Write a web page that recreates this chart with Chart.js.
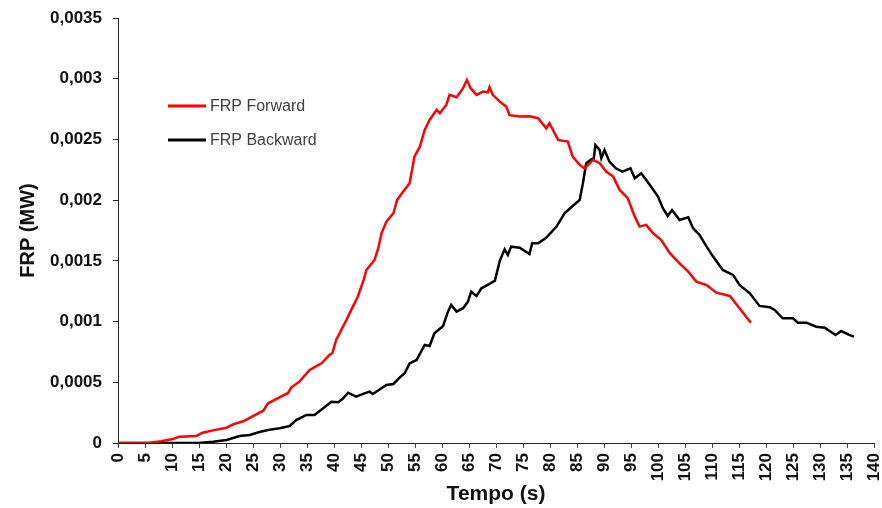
<!DOCTYPE html>
<html>
<head>
<meta charset="utf-8">
<script src="https://cdn.jsdelivr.net/npm/chart.js@4/dist/chart.umd.min.js"></script>
<style>
  html, body { margin: 0; padding: 0; background: #fff; }
  #wrap { width: 882px; height: 508px; }
</style>
</head>
<body>
<div id="wrap"><canvas id="canvas"></canvas></div>
<script>
// FRP values in MW, time in seconds
var forwardTime = [0, 3, 6, 8, 10.2, 11.4, 14.5, 15.7, 17.6, 20.1, 21.3, 23.2, 25, 26.9, 27.8, 29.9,
    31.5, 32.1, 33.6, 35.5, 37.7, 39.2, 39.7, 40.4, 42.3, 43.2, 44.4, 45.5, 46, 47.5, 48.2, 48.8,
    49.7, 51, 51.7, 52.8, 54, 54.9, 55.9, 56.8, 57.7, 59, 59.6, 60.8, 61.4, 62.7, 63.9, 64.6, 65.3,
    66.4, 67.6, 68.5, 68.8, 69.4, 70.7, 71.9, 72.5, 74.4, 76.2, 77.8, 79.3, 79.9, 81.5, 83.3, 84.2,
    85.5, 86.4, 88, 89.2, 90.4, 91.7, 92.9, 94.4, 95.7, 96.6, 97.8, 99.1, 100.6, 102.2, 104, 105.6,
    107.1, 109, 110.8, 113.3, 115.1, 117.2];
var forwardFrp = [0, 0, 0.000003, 0.000015, 0.000033, 0.000052, 0.000058, 0.000085, 0.000104, 0.000126,
    0.000154, 0.000179, 0.000222, 0.000266, 0.000327, 0.000376, 0.000412, 0.000459, 0.000505, 0.000601,
    0.000656, 0.000727, 0.000739, 0.000848, 0.001013, 0.001096, 0.001205, 0.001343, 0.001425, 0.001507,
    0.001604, 0.001727, 0.001823, 0.001892, 0.002002, 0.00207, 0.00214, 0.002358, 0.00244, 0.002578,
    0.00266, 0.002743, 0.002716, 0.002784, 0.002867, 0.002848, 0.002922, 0.00299, 0.002922, 0.002867,
    0.002894, 0.002887, 0.00293, 0.002867, 0.002811, 0.00277, 0.0027, 0.002688, 0.00269, 0.002675,
    0.002592, 0.002633, 0.002496, 0.002482, 0.002358, 0.00229, 0.002262, 0.002331, 0.002304, 0.002235,
    0.002194, 0.002084, 0.002016, 0.001864, 0.001782, 0.001796, 0.001727, 0.001672, 0.001563, 0.00148,
    0.001411, 0.001329, 0.001301, 0.001238, 0.001211, 0.00111, 0.000991];

var backwardTime = [0, 10, 15, 17.6, 20.1, 22.5, 24.4, 26.2, 27.8, 29.9, 31.8, 33, 34.9, 36.4, 38,
    39.5, 40.8, 41.7, 42.6, 44.1, 45.4, 46.6, 47.2, 48.5, 49.7, 51, 52.2, 53.1, 54, 55.3, 56.8, 57.7,
    58.6, 60.2, 61.1, 61.7, 62.7, 63.9, 64.8, 65.4, 66.4, 67.3, 68.8, 69.8, 70.7, 71.6, 72.2, 72.8,
    74.4, 76.2, 76.7, 77.8, 79.3, 81.2, 82.7, 84.2, 85.5, 86.1, 86.7, 87.7, 88.1, 88.4, 89.2, 89.5,
    90.1, 91, 92.2, 93.4, 94.9, 95.7, 96.9, 98.5, 100, 100.9, 101.8, 102.6, 104, 105.6, 106.5, 107.7,
    109, 110.2, 112, 113.9, 115.1, 117, 118.8, 120.7, 121.6, 123.1, 125, 125.9, 127.5, 129.3, 130.9,
    131.5, 132.9, 133.9, 135.4, 136.3];
var backwardFrp = [0, 0, 0, 0.000011, 0.000025, 0.000058, 0.000066, 0.000091, 0.000107, 0.000121,
    0.00014, 0.000189, 0.000231, 0.000231, 0.000286, 0.00034, 0.000335, 0.000368, 0.000414, 0.000381,
    0.000404, 0.000423, 0.000404, 0.000442, 0.000478, 0.000486, 0.000541, 0.000574, 0.000656, 0.000684,
    0.000807, 0.000799, 0.000904, 0.000964, 0.001082, 0.001137, 0.001082, 0.00111, 0.001164, 0.001246,
    0.001211, 0.001274, 0.00131, 0.001337, 0.0015, 0.001595, 0.001549, 0.001617, 0.001608, 0.001557,
    0.001645, 0.001645, 0.00169, 0.001782, 0.001892, 0.001952, 0.002002, 0.00214, 0.002304, 0.002337,
    0.00234, 0.002455, 0.002413, 0.002345, 0.002413, 0.002317, 0.002262, 0.002235, 0.002262, 0.00218,
    0.002221, 0.002125, 0.002029, 0.001933, 0.00187, 0.001919, 0.001837, 0.001859, 0.001769, 0.001713,
    0.001617, 0.001535, 0.001425, 0.001384, 0.001301, 0.001233, 0.001129, 0.001118, 0.001096, 0.001027,
    0.001027, 0.000991, 0.000991, 0.000958, 0.00095, 0.000931, 0.00089, 0.000922, 0.00089, 0.000876];

var seriesNames = ['FRP Forward', 'FRP Backward'];
var yTickLabels = ['0', '0,0005', '0,001', '0,0015', '0,002', '0,0025', '0,003', '0,0035'];

function toPoints(xs, ys) {
    var pts = [];
    for (var i = 0; i < xs.length; i++) {
        pts.push({x: xs[i], y: ys[i]});
    }
    return pts;
}

// legend sits inside the plot, top left
var insideLegend = {
    id: 'insideLegend',
    afterDraw: function (chart) {
        var ctx = chart.ctx;
        var rows = [106, 140];
        ctx.save();
        ctx.font = '16px "Liberation Sans", Arial, sans-serif';
        ctx.textBaseline = 'middle';
        ctx.textAlign = 'left';
        chart.data.datasets.forEach(function (ds, i) {
            ctx.strokeStyle = ds.borderColor;
            ctx.lineWidth = 3;
            ctx.beginPath();
            ctx.moveTo(168, rows[i]);
            ctx.lineTo(206, rows[i]);
            ctx.stroke();
            ctx.fillStyle = '#404040';
            ctx.fillText(ds.label, 210, rows[i] + 1);
        });
        ctx.restore();
    }
};

var tickFont = {family: '"Liberation Sans", Arial, sans-serif', size: 17, weight: 'bold'};

window.onload = function () {
    var ctx = document.getElementById('canvas').getContext('2d');
    window.myChart = new Chart(ctx, {
        type: 'line',
        data: {
            datasets: [{
                label: seriesNames[0],
                data: toPoints(forwardTime, forwardFrp),
                borderColor: '#ff0000',
                borderWidth: 2.5,
                pointRadius: 0,
                fill: false
            }, {
                label: seriesNames[1],
                data: toPoints(backwardTime, backwardFrp),
                borderColor: '#000000',
                borderWidth: 2.5,
                pointRadius: 0,
                fill: false
            }]
        },
        options: {
            responsive: true,
            maintainAspectRatio: false,
            animation: false,
            layout: {padding: {top: 18, right: 8, left: 0, bottom: 0}},
            plugins: {
                legend: {display: false},
                tooltip: {enabled: false}
            },
            scales: {
                x: {
                    type: 'linear',
                    min: 0,
                    max: 140,
                    grid: {drawOnChartArea: false, drawTicks: true, tickLength: 5, color: '#444'},
                    border: {display: true, color: '#222', width: 1},
                    ticks: {
                        stepSize: 5,
                        autoSkip: false,
                        minRotation: 90,
                        maxRotation: 90,
                        padding: 5,
                        color: '#111',
                        font: tickFont
                    },
                    title: {
                        display: true,
                        text: 'Tempo (s)',
                        color: '#111',
                        padding: {top: 0, bottom: 1},
                        font: {family: '"Liberation Sans", Arial, sans-serif', size: 21, weight: 'bold'}
                    },
                    afterFit: function (scale) {
                        scale.height = 65;
                        scale.paddingLeft = 0;
                        scale.paddingRight = 0;
                    }
                },
                y: {
                    min: 0,
                    max: 0.0035,
                    grid: {drawOnChartArea: false, drawTicks: true, tickLength: 5, color: '#222'},
                    border: {display: true, color: '#222', width: 1},
                    ticks: {
                        stepSize: 0.0005,
                        padding: 11,
                        color: '#111',
                        font: tickFont,
                        callback: function (value, index) {
                            return yTickLabels[index];
                        }
                    },
                    title: {
                        display: true,
                        text: 'FRP (MW)',
                        color: '#111',
                        padding: {top: 16, bottom: 0},
                        font: {family: '"Liberation Sans", Arial, sans-serif', size: 20, weight: 'bold'}
                    },
                    afterFit: function (scale) {
                        scale.width = 118;
                        scale.paddingTop = 0;
                        scale.paddingBottom = 0;
                    }
                }
            }
        },
        plugins: [insideLegend]
    });
};
</script>
</body>
</html>
